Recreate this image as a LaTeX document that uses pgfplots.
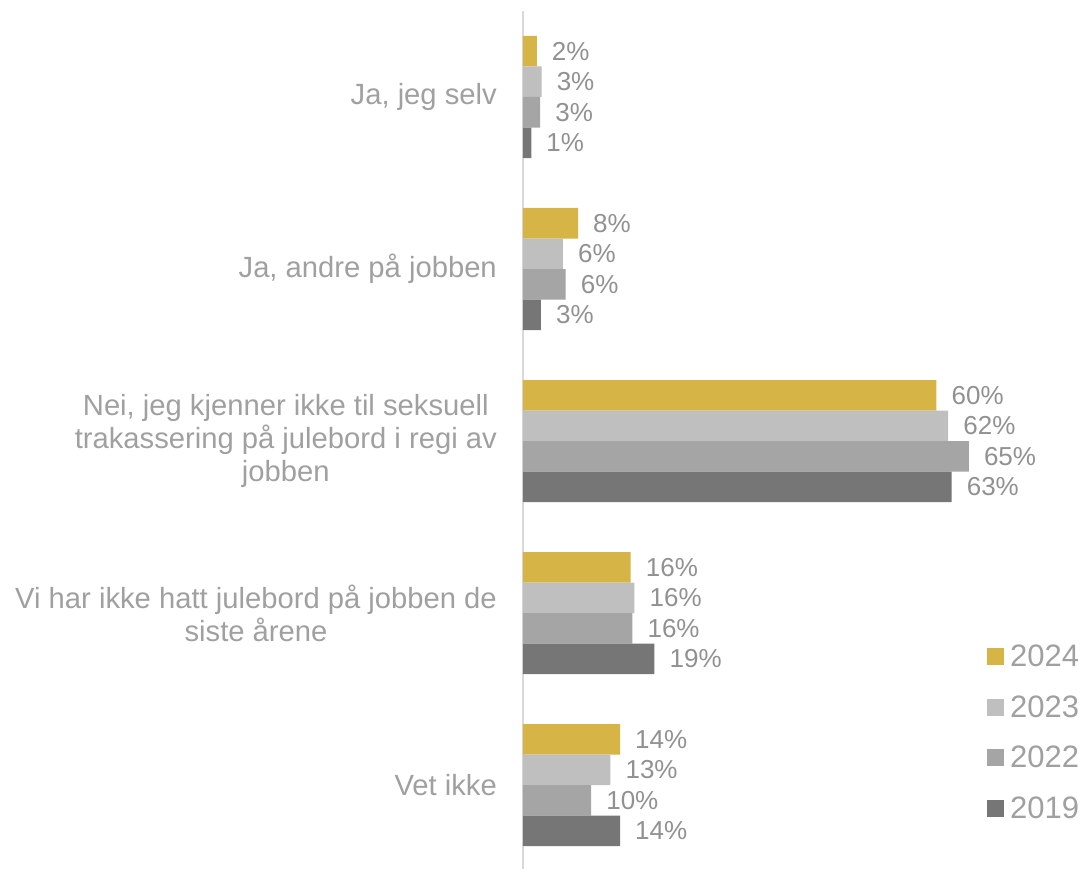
\documentclass[border=0pt]{standalone}
\usepackage{fontspec}
\setmainfont{Liberation Sans}
\usepackage{pgfplots}
\usepackage{pgfplotstable}
\pgfplotsset{compat=1.18}
\definecolor{cgold}{RGB}{214,180,69}
\definecolor{clight}{RGB}{191,191,191}
\definecolor{cmid}{RGB}{165,165,165}
\definecolor{cdark}{RGB}{118,118,118}
\definecolor{datagray}{RGB}{145,145,145}
\definecolor{labgray}{RGB}{160,160,160}
\definecolor{axgray}{RGB}{217,217,217}

% y: 0 = Vet ikke ... 4 = Ja, jeg selv
\pgfplotstableread{
x y lab
2.0 4 2
8.0 3 8
60.1 2 60
15.65 1 16
14.1 0 14
}\dataA
\pgfplotstableread{
x y lab
2.7 4 3
5.8 3 6
61.8 2 62
16.2 1 16
12.7 0 13
}\dataB
\pgfplotstableread{
x y lab
2.5 4 3
6.2 3 6
64.8 2 65
15.9 1 16
9.9 0 10
}\dataC
\pgfplotstableread{
x y lab
1.2 4 1
2.6 3 3
62.3 2 63
19.1 1 19
14.1 0 14
}\dataD

\begin{document}
\begin{tikzpicture}
\path[use as bounding box] (-523pt,3pt) rectangle (563pt,871pt);
\begin{axis}[
  scale only axis,
  width=550.4pt, height=860pt,
  xmin=0, xmax=80,
  ymin=-0.5, ymax=4.5,
  xbar,
  bar width=30.5pt,
  clip=false,
  axis x line=none,
  axis y line*=left,
  axis line style={axgray, line width=1.5pt},
  xtick=\empty,
  ytick={0,1,2,3,4},
  yticklabels={{Vet ikke},{Vi har ikke hatt julebord på jobben de\\siste årene},{Nei, jeg kjenner ikke til seksuell\\trakassering på julebord i regi av\\jobben},{Ja, andre på jobben},{Ja, jeg selv}},
  major tick length=0pt,
  ytick style={draw=none},
  yticklabel style={align=center, anchor=east, inner sep=0pt, xshift=-26pt,
    font=\fontsize{29.2}{33}\selectfont, text=labgray},
  point meta=explicit symbolic,
  nodes near coords={\pgfplotspointmeta\%},
  every node near coord/.append style={anchor=west, inner sep=0pt, xshift=15pt,
    font=\fontsize{26}{26}\selectfont, text=datagray},
  legend style={at={(0.843,0.2655)}, anchor=north west, draw=none, fill=none,
    inner sep=0pt, font=\fontsize{31}{31}\selectfont, text=labgray,
    row sep=23.5pt, column sep=4pt, cells={anchor=west}},
  legend image code/.code={\fill[#1] (0pt,-8.5pt) rectangle (17pt,8.5pt);},
]
\addplot[fill=cgold, draw=none, bar shift=45.75pt] table[x=x, y=y, meta=lab] {\dataA};
\addplot[fill=clight, draw=none, bar shift=15.25pt] table[x=x, y=y, meta=lab] {\dataB};
\addplot[fill=cmid, draw=none, bar shift=-15.25pt] table[x=x, y=y, meta=lab] {\dataC};
\addplot[fill=cdark, draw=none, bar shift=-45.75pt] table[x=x, y=y, meta=lab] {\dataD};
\legend{2024,2023,2022,2019}
\end{axis}
\end{tikzpicture}
\end{document}
